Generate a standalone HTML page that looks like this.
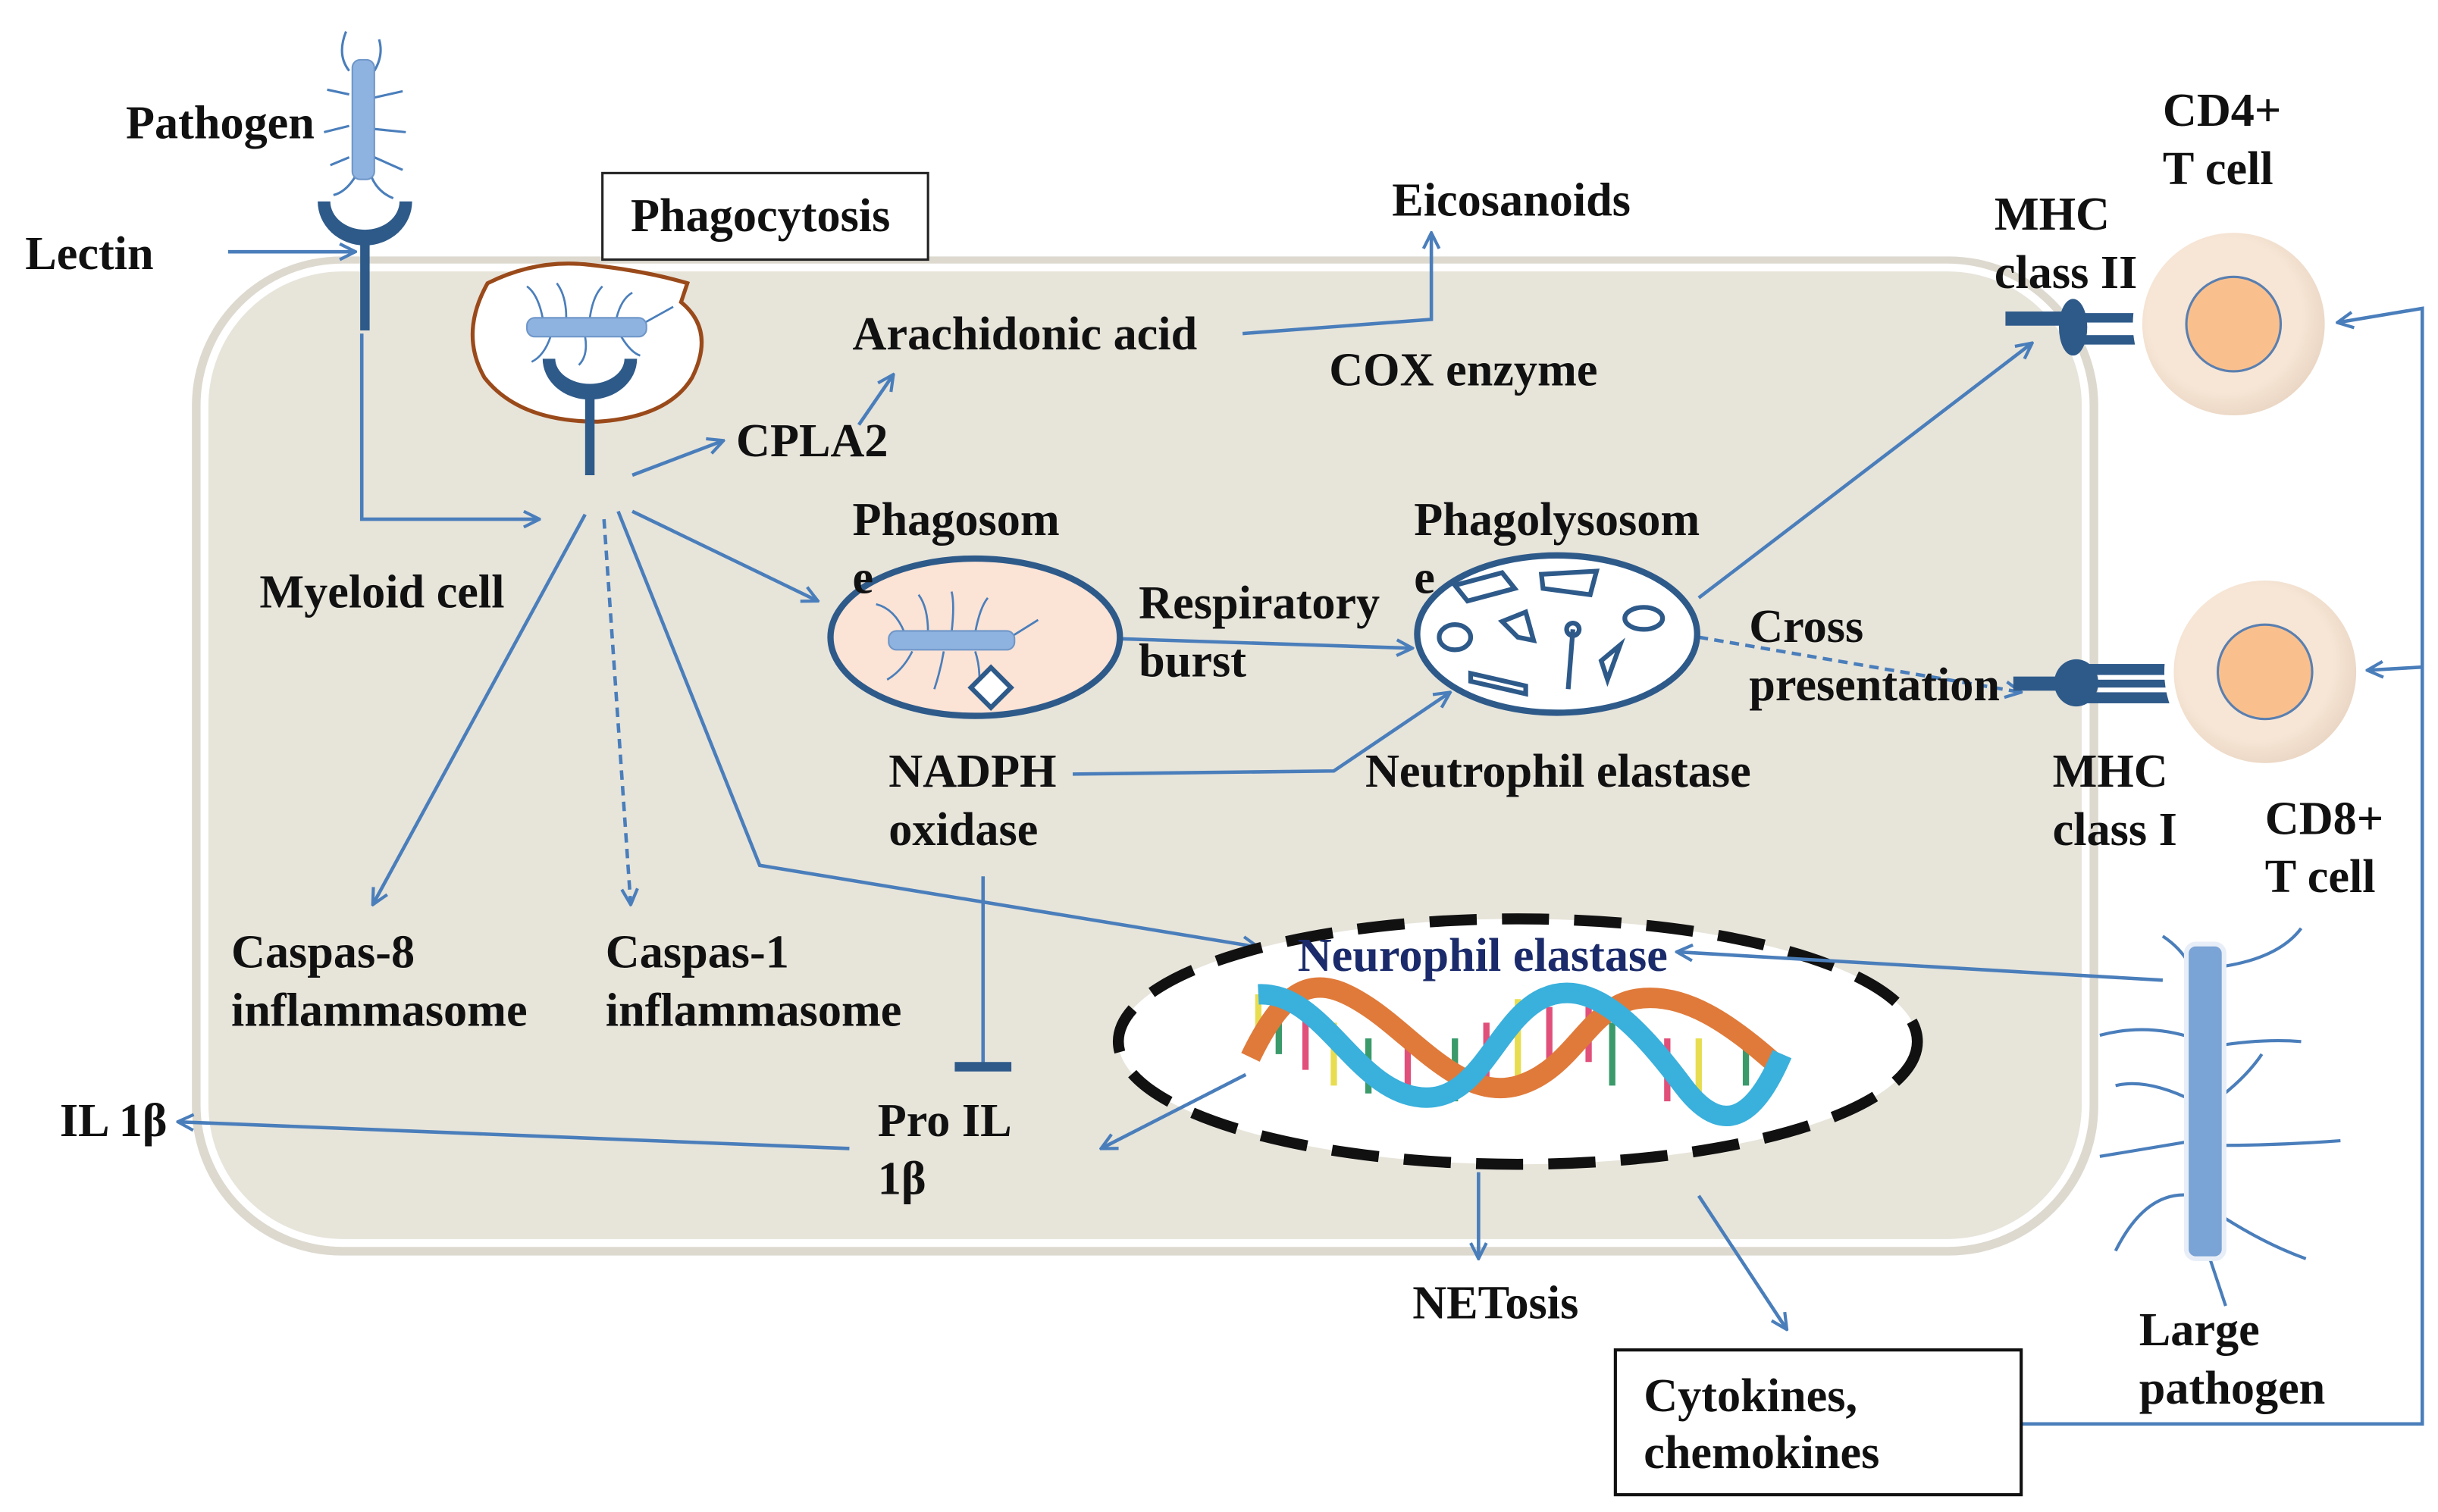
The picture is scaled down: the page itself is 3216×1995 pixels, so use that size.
<!DOCTYPE html>
<html><head><meta charset="utf-8"><style>
html,body{margin:0;padding:0;background:#fff;}
svg{display:block;}
text{font-family:"Liberation Serif",serif;font-weight:bold;font-size:30px;fill:#111;}
</style></head><body>
<svg width="3216" height="1995" viewBox="0 0 1550 961" preserveAspectRatio="none" xmlns="http://www.w3.org/2000/svg">
<defs>
<marker id="a" viewBox="0 0 12 12" refX="11" refY="6" markerWidth="12" markerHeight="12" markerUnits="userSpaceOnUse" orient="auto"><path d="M1,1 L11,6 L1,11" fill="none" stroke="#4a7ebb" stroke-width="2"/></marker>
<radialGradient id="cg" cx="0.45" cy="0.45" r="0.6"><stop offset="0.7" stop-color="#f7e6d6"/><stop offset="1" stop-color="#e8d3c0"/></radialGradient>
</defs>
<rect width="1550" height="961" fill="#fff"/>
<!-- cell -->
<rect x="122" y="163" width="1212" height="635" rx="95" fill="#ddd9cf"/>
<rect x="130" y="170" width="1196" height="620" rx="88" fill="#e7e4da" stroke="#fff" stroke-width="5"/>

<g fill="none" stroke="#4a7ebb" stroke-width="2.2">
<line x1="145" y1="160" x2="226" y2="160" marker-end="url(#a)"/>
<polyline points="230,212 230,330 343,330" marker-end="url(#a)"/>
<line x1="402" y1="302" x2="460" y2="280" marker-end="url(#a)"/>
<line x1="546" y1="270" x2="568" y2="238" marker-end="url(#a)"/>
<polyline points="790,212 910,203 910,148" marker-end="url(#a)"/>
<line x1="372" y1="327" x2="237" y2="575" marker-end="url(#a)"/>
<line x1="384" y1="330" x2="401" y2="575" stroke-dasharray="6 4" marker-end="url(#a)"/>
<polyline points="393,325 483,550 800,602" marker-end="url(#a)"/>
<line x1="402" y1="325" x2="520" y2="382" marker-end="url(#a)"/>
<line x1="712" y1="406" x2="898" y2="412" marker-end="url(#a)"/>
<polyline points="682,492 848,490 922,440" marker-end="url(#a)"/>
<line x1="1080" y1="380" x2="1292" y2="218" marker-end="url(#a)"/>
<line x1="1080" y1="405" x2="1285" y2="440" stroke-dasharray="6 4" marker-end="url(#a)"/>
<line x1="625" y1="557" x2="625" y2="678"/>
<line x1="540" y1="730" x2="113" y2="713" marker-end="url(#a)"/>
<line x1="940" y1="745" x2="940" y2="800" marker-end="url(#a)"/>
<line x1="1080" y1="760" x2="1136" y2="845" marker-end="url(#a)"/>
<polyline points="1285,905 1540,905 1540,196 1486,205" marker-end="url(#a)"/>
<line x1="1540" y1="424" x2="1505" y2="426" marker-end="url(#a)"/>
</g>
<line x1="607" y1="678" x2="643" y2="678" stroke="#2e5a8a" stroke-width="6"/>

<!-- top pathogen -->
<g stroke="#4a7ebb" stroke-width="1.5" fill="none">
<path d="M222,45 q-8,-10 -2,-25 M238,45 q6,-10 3,-20 M222,60 l-14,-3 M238,62 l18,-4 M222,80 l-16,4 M238,82 l20,2 M222,100 l-12,5 M238,100 l18,8 M226,112 q-6,10 -14,12 M236,112 q4,10 14,14"/>
</g>
<rect x="224" y="38" width="14" height="76" rx="5" fill="#8fb3e0" stroke="#6e96c8"/>
<path d="M202,128 A30,28 0 0 0 262,128 L254,128 A22,18 0 0 1 210,128 Z" fill="#2e5a8a"/>
<line x1="232" y1="148" x2="232" y2="210" stroke="#2e5a8a" stroke-width="6"/>

<!-- phagocytosis -->
<path d="M310,180 Q340,165 372,168 Q410,172 437,180 L433,192 Q455,210 440,240 Q425,265 380,268 Q330,268 308,240 Q292,212 310,180Z" fill="#fff" stroke="#9a4a1a" stroke-width="2.5"/>
<g stroke="#4a7ebb" stroke-width="1.3" fill="none">
<path d="M345,202 q-3,-15 -10,-20 M360,202 q0,-14 -6,-22 M375,202 q2,-14 8,-20 M392,202 q3,-12 10,-16 M350,214 q-4,12 -12,16 M372,214 q2,12 -4,18 M395,214 q6,10 12,12 M410,205 l18,-10"/>
</g>
<rect x="335" y="202" width="76" height="12" rx="5" fill="#8fb3e0" stroke="#6e96c8"/>
<path d="M345,228 A30,26 0 0 0 405,228 L397,228 A22,16 0 0 1 353,228 Z" fill="#2e5a8a"/>
<line x1="375" y1="250" x2="375" y2="302" stroke="#2e5a8a" stroke-width="6"/>
<rect x="383" y="110" width="207" height="55" fill="#fff" stroke="#222" stroke-width="1.5"/>

<!-- phagosome -->
<ellipse cx="620" cy="405" rx="92" ry="50" fill="#fbe3d5" stroke="#2e5a8a" stroke-width="4"/>
<g stroke="#4a7ebb" stroke-width="1.3" fill="none">
<path d="M575,402 q-6,-15 -18,-18 M590,402 q0,-16 -6,-24 M605,402 q2,-18 0,-26 M620,402 q3,-16 8,-22 M580,414 q-6,12 -16,18 M600,414 q-2,12 -6,24 M620,414 q4,12 2,26 M644,404 l16,-10"/>
</g>
<rect x="565" y="401" width="80" height="12" rx="5" fill="#8fb3e0" stroke="#6e96c8"/>
<rect x="621" y="428" width="18" height="18" transform="rotate(45 630 437)" fill="#fff" stroke="#2e5a8a" stroke-width="3"/>

<!-- phagolysosome -->
<ellipse cx="990" cy="403" rx="89" ry="50" fill="#fff" stroke="#2e5a8a" stroke-width="4"/>
<g fill="none" stroke="#2e5a8a" stroke-width="3">
<path d="M925,372 l30,-8 l8,10 l-30,8z"/><path d="M980,365 l35,-2 l-4,15 l-30,-4z"/>
<ellipse cx="925" cy="405" rx="10" ry="8"/><path d="M955,395 l15,-6 l5,18 l-10,-2z"/>
<ellipse cx="1045" cy="393" rx="12" ry="7"/><path d="M935,428 l35,8 l0,5 l-35,-8z"/>
<path d="M1000,400 l-3,38" /><circle cx="1000" cy="400" r="4"/><path d="M1018,420 l12,-10 l-8,22z"/>
</g>

<!-- MHC II receptor and CD4 -->
<rect x="1275" y="198" width="40" height="9" fill="#2e5a8a"/>
<ellipse cx="1318" cy="208" rx="9" ry="18" fill="#2e5a8a"/>
<rect x="1320" y="199" width="42" height="6" fill="#2e5a8a"/><rect x="1320" y="213" width="42" height="6" fill="#2e5a8a"/>
<circle cx="1420" cy="206" r="64" fill="#fff"/>
<circle cx="1420" cy="206" r="58" fill="url(#cg)"/>
<circle cx="1420" cy="206" r="30" fill="#f9c08e" stroke="#5a7fb0" stroke-width="1.5"/>
<!-- MHC I + CD8 -->
<rect x="1280" y="430" width="40" height="9" fill="#2e5a8a"/>
<ellipse cx="1320" cy="434" rx="14" ry="15" fill="#2e5a8a"/>
<rect x="1325" y="422" width="60" height="7" fill="#2e5a8a"/><rect x="1325" y="432" width="60" height="5" fill="#2e5a8a"/><rect x="1325" y="440" width="60" height="7" fill="#2e5a8a"/>
<circle cx="1440" cy="427" r="64" fill="#fff"/>
<circle cx="1440" cy="427" r="58" fill="url(#cg)"/>
<circle cx="1440" cy="427" r="30" fill="#f9c08e" stroke="#5a7fb0" stroke-width="1.5"/>

<!-- DNA ellipse -->
<ellipse cx="965" cy="662" rx="254" ry="78" fill="#fff" stroke="#111" stroke-width="7" stroke-dasharray="30 16"/>
<g stroke-width="4">
<line x1="800" y1="632" x2="800" y2="665" stroke="#e8dd50"/><line x1="813" y1="640" x2="813" y2="670" stroke="#3a9a6a"/>
<line x1="830" y1="640" x2="830" y2="680" stroke="#e0507a"/><line x1="848" y1="650" x2="848" y2="690" stroke="#e8dd50"/>
<line x1="870" y1="660" x2="870" y2="695" stroke="#3a9a6a"/><line x1="895" y1="665" x2="895" y2="690" stroke="#e0507a"/>
<line x1="925" y1="660" x2="925" y2="700" stroke="#3a9a6a"/><line x1="945" y1="650" x2="945" y2="695" stroke="#e0507a"/>
<line x1="965" y1="635" x2="965" y2="690" stroke="#e8dd50"/><line x1="985" y1="640" x2="985" y2="680" stroke="#e0507a"/>
<line x1="1010" y1="640" x2="1010" y2="675" stroke="#e0507a"/><line x1="1025" y1="650" x2="1025" y2="690" stroke="#3a9a6a"/>
<line x1="1060" y1="660" x2="1060" y2="700" stroke="#e0507a"/><line x1="1080" y1="660" x2="1080" y2="700" stroke="#e8dd50"/>
<line x1="1110" y1="655" x2="1110" y2="690" stroke="#3a9a6a"/>
</g>
<path d="M795,672 C820,620 840,620 870,640 S930,700 965,690 S1010,640 1040,635 S1100,650 1133,680" fill="none" stroke="#e07a3a" stroke-width="13"/>
<path d="M800,632 C840,630 860,690 900,697 S950,650 980,635 S1040,650 1070,690 S1120,700 1133,670" fill="none" stroke="#3ab0dc" stroke-width="13"/>
<g fill="none" stroke="#4a7ebb" stroke-width="2.2">
<line x1="1375" y1="623" x2="1066" y2="605" marker-end="url(#a)"/>
<line x1="792" y1="683" x2="700" y2="730" marker-end="url(#a)"/>
</g>

<!-- large pathogen -->
<g stroke="#4a7ebb" stroke-width="2" fill="none">
<path d="M1395,620 q-5,-15 -20,-25 M1408,615 q40,-5 55,-25 M1395,660 q-30,-10 -60,-2 M1408,665 q30,-5 55,-3 M1395,700 q-30,-15 -50,-10 M1408,700 q20,-15 30,-30 M1408,728 q40,0 80,-3 M1395,725 q-30,5 -60,10 M1395,760 q-30,-5 -50,35 M1408,770 q30,20 58,30 M1405,800 q5,15 10,30"/>
</g>
<rect x="1390" y="600" width="24" height="200" rx="6" fill="#7aa3d6" stroke="#e8eef7" stroke-width="3"/>

<rect x="1027" y="858" width="258" height="92" fill="#fff" stroke="#111" stroke-width="2"/>

<!-- labels -->
<text x="80" y="88">Pathogen</text>
<text x="16" y="171">Lectin</text>
<text x="401" y="147">Phagocytosis</text>
<text x="885" y="137">Eicosanoids</text>
<text x="542" y="222">Arachidonic acid</text>
<text x="845" y="245">COX enzyme</text>
<text x="468" y="290">CPLA2</text>
<text x="165" y="386">Myeloid cell</text>
<text x="542" y="340">Phagosom</text><text x="542" y="377">e</text>
<text x="899" y="340">Phagolysosom</text><text x="899" y="377">e</text>
<text x="724" y="393">Respiratory</text><text x="724" y="430">burst</text>
<text x="1112" y="408">Cross</text><text x="1112" y="445">presentation</text>
<text x="565" y="500">NADPH</text><text x="565" y="537">oxidase</text>
<text x="868" y="500">Neutrophil elastase</text>
<text x="1268" y="146">MHC</text><text x="1268" y="183">class II</text>
<text x="1375" y="80">CD4+</text><text x="1375" y="117">T cell</text>
<text x="1305" y="500">MHC</text><text x="1305" y="537">class I</text>
<text x="1440" y="530">CD8+</text><text x="1440" y="567">T cell</text>
<text x="147" y="615">Caspas-8</text><text x="147" y="652">inflammasome</text>
<text x="385" y="615">Caspas-1</text><text x="385" y="652">inflammasome</text>
<text x="825" y="617" style="fill:#1a2a6a">Neurophil elastase</text>
<text x="38" y="722">IL 1β</text>
<text x="558" y="722">Pro IL</text><text x="558" y="759">1β</text>
<text x="898" y="838">NETosis</text>
<text x="1360" y="855">Large</text><text x="1360" y="892">pathogen</text>
<text x="1045" y="897">Cytokines,</text><text x="1045" y="933">chemokines</text>
</svg>
</body></html>
